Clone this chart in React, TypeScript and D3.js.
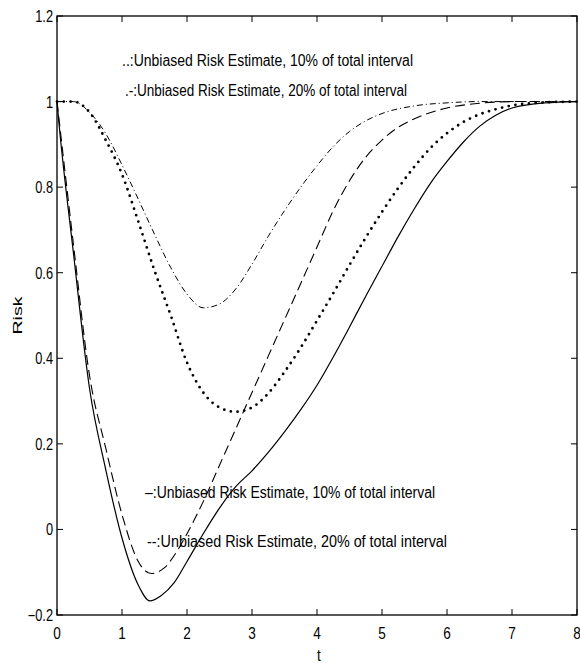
import * as d3 from 'd3';

// risk curves (t in [0, 8])
const T_SOLID = [0, 0.03, 0.25, 0.5, 0.75, 1.0, 1.25, 1.43, 1.6, 1.8, 2.0, 2.25, 2.5, 2.75, 3.0, 3.25, 3.5, 3.75, 4.0, 4.25, 4.5, 4.75, 5.0, 5.25, 5.5, 5.75, 6.0, 6.25, 6.5, 6.75, 7.0, 7.5, 8.0];
const RISK_SOLID = [1.0, 0.95, 0.65, 0.33, 0.14, -0.02, -0.13, -0.167, -0.155, -0.125, -0.075, -0.01, 0.05, 0.1, 0.137, 0.18, 0.228, 0.28, 0.337, 0.403, 0.473, 0.545, 0.615, 0.685, 0.75, 0.81, 0.86, 0.905, 0.942, 0.968, 0.985, 0.997, 1.0];

const T_DASHED = [0, 0.03, 0.25, 0.5, 0.75, 1.0, 1.25, 1.45, 1.65, 1.85, 2.0, 2.25, 2.5, 2.75, 3.0, 3.25, 3.5, 3.75, 4.0, 4.25, 4.5, 4.75, 5.0, 5.25, 5.5, 6.0, 6.5, 7.0, 8.0];
const RISK_DASHED = [1.0, 0.96, 0.67, 0.36, 0.19, 0.035, -0.075, -0.103, -0.09, -0.05, -0.01, 0.065, 0.15, 0.235, 0.32, 0.405, 0.49, 0.575, 0.66, 0.745, 0.815, 0.87, 0.91, 0.94, 0.96, 0.985, 0.996, 1.0, 1.0];

const T_DOTTED = [0, 0.25, 0.5, 0.75, 1.0, 1.25, 1.5, 1.75, 2.0, 2.25, 2.5, 2.75, 3.0, 3.25, 3.5, 3.75, 4.0, 4.25, 4.5, 4.75, 5.0, 5.25, 5.5, 5.75, 6.0, 6.25, 6.5, 6.75, 7.0, 7.5, 8.0];
const RISK_DOTTED = [1.0, 1.0, 0.975, 0.91, 0.83, 0.72, 0.605, 0.5, 0.39, 0.32, 0.285, 0.275, 0.285, 0.318, 0.368, 0.425, 0.488, 0.552, 0.618, 0.682, 0.742, 0.798, 0.848, 0.892, 0.926, 0.952, 0.97, 0.982, 0.991, 0.998, 1.0];

const T_DASHDOT = [0, 0.25, 0.5, 0.75, 1.0, 1.25, 1.5, 1.75, 2.0, 2.25, 2.5, 2.75, 3.0, 3.25, 3.5, 3.75, 4.0, 4.25, 4.5, 4.75, 5.0, 5.5, 6.0, 6.5, 8.0];
const RISK_DASHDOT = [1.0, 1.0, 0.975, 0.925, 0.852, 0.772, 0.69, 0.612, 0.55, 0.518, 0.527, 0.562, 0.62, 0.685, 0.745, 0.8, 0.85, 0.895, 0.93, 0.955, 0.972, 0.99, 0.997, 1.0, 1.0];

const X_TICKS = [0, 1, 2, 3, 4, 5, 6, 7, 8];
const Y_TICKS = [-0.2, 0, 0.2, 0.4, 0.6, 0.8, 1, 1.2];
const Y_TICK_LABELS = ['\u22120.2', '0', '0.2', '0.4', '0.6', '0.8', '1', '1.2'];

const NOTE_DOTTED = '..:Unbiased Risk Estimate, 10% of total interval';
const NOTE_DASHDOT = '.-:Unbiased Risk Estimate, 20% of total interval';
const NOTE_SOLID = '\u2013:Unbiased Risk Estimate, 10% of total interval';
const NOTE_DASHED = '--:Unbiased Risk Estimate, 20% of total interval';

const W = 580;
const H = 663;
const FONT = '"Liberation Sans", Arial, sans-serif';

export default function App() {
  const x = d3.scaleLinear().domain([0, 8]).range([57, 577]);
  const y = d3.scaleLinear().domain([-0.2, 1.2]).range([615, 16]);

  const line = (ts: number[], vs: number[]) =>
    d3
      .line<number>()
      .x((_, i) => x(ts[i]))
      .y((v) => y(v))
      .curve(d3.curveMonotoneX)(vs) || '';

  const series = [
    { d: line(T_SOLID, RISK_SOLID), dash: 'none', w: 1.2, cap: 'butt' },
    { d: line(T_DASHED, RISK_DASHED), dash: '10 5', w: 1.1, cap: 'butt' },
    { d: line(T_DOTTED, RISK_DOTTED), dash: '0 6.8', w: 2.8, cap: 'round' },
    { d: line(T_DASHDOT, RISK_DASHDOT), dash: '6 3 1 3', w: 1.0, cap: 'butt' },
  ];

  const [x0, x1] = x.range();
  const [yb, yt] = y.range();
  const tick = 6;

  return (
    <svg width={W} height={H} style={{ position: 'absolute', left: 0, top: 0, background: '#fff' }}>
      {/* curves */}
      {series.map((s, i) => (
        <path key={i} d={s.d} fill="none" stroke="#000" strokeWidth={s.w}
          strokeDasharray={s.dash} strokeLinecap={s.cap as any} />
      ))}

      {/* frame */}
      <rect x={x0} y={yt} width={x1 - x0} height={yb - yt} fill="none" stroke="#000" strokeWidth={1.3} />

      {/* ticks, inside on all four sides */}
      {X_TICKS.map((t) => (
        <g key={'xt' + t}>
          <line x1={x(t)} x2={x(t)} y1={yb} y2={yb - tick} stroke="#000" strokeWidth={1} />
          <line x1={x(t)} x2={x(t)} y1={yt} y2={yt + tick} stroke="#000" strokeWidth={1} />
          <text transform={`translate(${x(t)},639) scale(0.8,1)`} textAnchor="middle"
            fontFamily={FONT} fontSize={17}>{t}</text>
        </g>
      ))}
      {Y_TICKS.map((v, i) => (
        <g key={'yt' + v}>
          <line x1={x0} x2={x0 + tick} y1={y(v)} y2={y(v)} stroke="#000" strokeWidth={1} />
          <line x1={x1} x2={x1 - tick} y1={y(v)} y2={y(v)} stroke="#000" strokeWidth={1} />
          <text transform={`translate(53,${y(v) + 6}) scale(0.8,1)`} textAnchor="end"
            fontFamily={FONT} fontSize={16}>{Y_TICK_LABELS[i]}</text>
        </g>
      ))}

      {/* axis labels */}
      <text transform={`translate(319,661) scale(0.8,1)`} textAnchor="middle" fontFamily={FONT} fontSize={17}>t</text>
      <text transform={`translate(21.5,${(yb + yt) / 2}) rotate(-90)`} textAnchor="middle"
        fontFamily={FONT} fontSize={13} textLength={38} lengthAdjust="spacingAndGlyphs">Risk</text>

      {/* in-plot notes */}
      <text x={122} y={66} fontFamily={FONT} fontSize={16} textLength={291} lengthAdjust="spacingAndGlyphs">{NOTE_DOTTED}</text>
      <text x={125} y={96} fontFamily={FONT} fontSize={16} textLength={282} lengthAdjust="spacingAndGlyphs">{NOTE_DASHDOT}</text>
      <text x={145} y={498} fontFamily={FONT} fontSize={16} textLength={290} lengthAdjust="spacingAndGlyphs">{NOTE_SOLID}</text>
      <text x={147} y={547} fontFamily={FONT} fontSize={16} textLength={300} lengthAdjust="spacingAndGlyphs">{NOTE_DASHED}</text>
    </svg>
  );
}
